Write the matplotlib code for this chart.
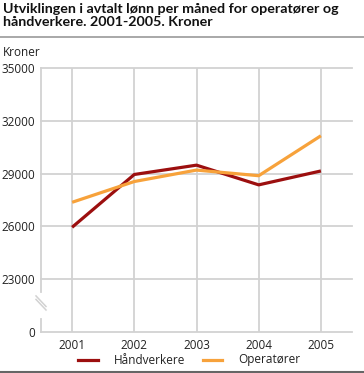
import matplotlib
matplotlib.use("Agg")
import matplotlib.pyplot as plt
from matplotlib.lines import Line2D

years = [2001, 2002, 2003, 2004, 2005]
handverkere = [25950, 28950, 29480, 28360, 29150]
operatorer = [27370, 28550, 29200, 28880, 31150]
ytick_values = [20000, 23000, 26000, 29000, 32000, 35000]
ytick_labels = ["0", "23000", "26000", "29000", "32000", "35000"]
series_names = ["Håndverkere", "Operatører"]
title = "Utviklingen i avtalt lønn per måned for operatører og\nhåndverkere. 2001-2005. Kroner"

plt.rcParams['font.family'] = ['Open Sans', 'DejaVu Sans']

W, H = 364, 373
fig = plt.figure(figsize=(W / 100, H / 100), dpi=100)
ax = fig.add_axes([41 / W, 1 - 332 / H, (352 - 41) / W, (332 - 68) / H])

grid_c = "#d2d2d2"
red = "#9c0f0f"
orange = "#f7a23b"

ax.set_xlim(2000.5, 2005.5)
ax.set_ylim(20000, 35000)
ax.set_yticks(ytick_values)
ax.set_yticklabels(ytick_labels)
ax.set_xticks(years)
ax.set_xticklabels([str(y) for y in years])
ax.tick_params(length=0, labelsize=8.5, colors="#222222")
ax.tick_params(axis='y', pad=4)
ax.tick_params(axis='x', pad=5)

for y in ytick_values[1:]:
    ax.axhline(y, color=grid_c, lw=1.3, zorder=1, clip_on=False)
for x in years:
    ax.axvline(x, color=grid_c, lw=1.3, zorder=1)

for s in ["top", "right", "left"]:
    ax.spines[s].set_visible(False)
ax.spines["bottom"].set_color(grid_c)
ax.spines["bottom"].set_linewidth(1.3)

# broken left axis
def fy(v):
    return (v - 20000) / 15000
ax.plot([0, 0], [fy(22290), 1], transform=ax.transAxes, color=grid_c, lw=1.3, clip_on=False)
ax.plot([0, 0], [0, fy(20750)], transform=ax.transAxes, color=grid_c, lw=1.3, clip_on=False)
dx = 5 / (352 - 41)
for off in (0, 3.5 / 264):
    ax.plot([-dx, dx], [fy(22050) - off, fy(21450) - off], transform=ax.transAxes,
            color=grid_c, lw=1.1, clip_on=False)

ax.plot(years, handverkere, color=red, lw=2.3, zorder=3, solid_capstyle='butt')
ax.plot(years, operatorer, color=orange, lw=2.3, zorder=3, solid_capstyle='butt')

fig.text(3 / W, 1 - 3 / H, title, fontsize=10.3, fontweight='bold', va='top', ha='left',
         color="#111111", linespacing=1.15, family=['Lato', 'DejaVu Sans'])
fig.add_artist(Line2D([0, 1], [1 - 37 / H, 1 - 37 / H], color="#9a9a9a", lw=1.2))
fig.add_artist(Line2D([0, 1], [1 - 372 / H, 1 - 372 / H], color="#666666", lw=1.5))
fig.text(3 / W, 1 - 52 / H, "Kroner", fontsize=8.5, va='center', ha='left', color="#222222")

# legend drawn manually
leg_y = 1 - 360 / H
for (x0, x1, tx), name, col in zip([(78, 98, 114), (203, 222, 238)], series_names, [red, orange]):
    fig.add_artist(Line2D([x0 / W, x1 / W], [leg_y, leg_y], color=col, lw=2.3))
    fig.text(tx / W, leg_y, name, fontsize=8.5, va='center', ha='left', color="#222222")

fig.savefig("out.png", dpi=100)
